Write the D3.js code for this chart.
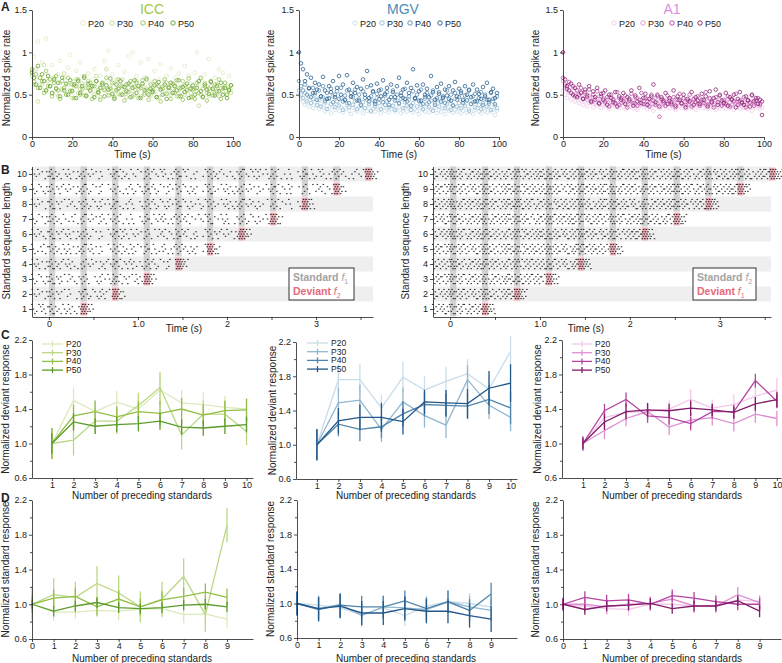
<!DOCTYPE html>
<html><head><meta charset="utf-8">
<script src="https://cdn.jsdelivr.net/npm/d3@7"></script>
<style>body{margin:0;background:#fff} svg text{font-family:"Liberation Sans",Arial,sans-serif;fill:#222}</style>
</head><body><svg id="c" width="782" height="663"></svg>
<script>
// ---------------- DATA ----------------
const regions = ["ICC","MGV","A1"];
const ages = ["P20","P30","P40","P50"];
const timeTicksA = [0,20,40,60,80,100];
const rateTicks = [0,0.5,1,1.5];
const rateTickLabels = ["0","0.5","1","1.5"];
const respTicks = [0.6,1.0,1.4,1.8,2.2];
const respTickLabels = ["0.6","1.0","1.4","1.8","2.2"];
const respMinorTicks = [0.8,1.2,1.6,2.0];
const devN = [1,2,3,4,5,6,7,8,9,10];
const stdN = [0,1,2,3,4,5,6,7,8,9];
const rowsB = [1,2,3,4,5,6,7,8,9,10];
const timeTicksB = [0,0.5,1,1.5,2,2.5,3,3.5];
const timeTickLabelsB = ["0","","1.0","","2","","3",""];
const stimOnsetInterval = 0.355;   // s between tone onsets
const stimDuration = 0.07;         // s
const rasterBin = 0.05;            // s per density character

// Panel A: normalized spike rate, one value per second (t = 0..99 s)
const rateICC = [
 [0.78,0.95,0.68,1.13,0.62,0.88,0.55,1.16,0.72,0.60,0.85,0.66,0.52,0.74,0.90,0.58,0.70,0.63,0.82,0.97,0.55,0.66,0.78,0.60,0.88,0.52,0.70,0.64,0.75,0.58,0.68,0.80,0.55,0.62,0.72,0.58,0.90,0.65,1.02,0.60,0.74,0.55,0.68,0.85,0.62,0.58,0.77,0.52,0.95,0.66,1.00,0.60,0.72,0.56,0.88,0.63,0.70,0.58,0.92,0.64,0.55,0.78,0.60,0.68,0.86,0.57,0.65,0.72,0.59,0.81,0.62,0.70,0.56,0.75,0.60,0.66,0.84,0.58,0.72,0.63,0.57,0.76,1.00,0.62,0.68,0.58,0.74,0.60,0.92,0.66,0.55,0.70,0.62,0.80,0.58,0.76,0.64,0.60,0.72,0.56],
 [0.72,0.65,0.80,0.42,0.70,0.62,0.85,0.55,0.66,0.60,0.52,0.70,0.58,0.48,0.64,0.56,0.75,0.50,0.62,0.55,0.46,0.60,0.68,0.52,0.57,0.63,0.49,0.58,0.66,0.54,0.60,0.50,0.72,0.56,0.47,0.62,0.55,0.80,0.52,0.58,0.49,0.64,0.56,0.51,0.60,0.68,0.53,0.47,0.58,0.62,0.54,0.50,0.66,0.57,0.48,0.60,0.52,0.70,0.55,0.49,0.58,0.53,0.62,0.47,0.56,0.60,0.51,0.64,0.55,0.50,0.57,0.62,0.48,0.58,0.53,0.66,0.50,0.56,0.60,0.52,0.47,0.58,0.54,0.37,0.50,0.57,0.64,0.52,0.49,0.60,0.55,0.51,0.62,0.48,0.58,0.53,0.60,0.50,0.56,0.52],
 [0.80,0.62,0.74,0.58,0.70,0.66,0.52,0.78,0.60,0.68,0.48,0.64,0.72,0.55,0.45,0.66,0.58,0.50,0.70,0.54,0.62,0.46,0.60,0.68,0.50,0.57,0.72,0.48,0.58,0.64,0.45,0.60,0.66,0.52,0.44,0.62,0.56,0.70,0.49,0.57,0.64,0.47,0.55,0.68,0.50,0.60,0.43,0.62,0.53,0.66,0.48,0.59,0.64,0.46,0.58,0.67,0.50,0.56,0.44,0.62,0.55,0.66,0.47,0.60,0.42,0.57,0.68,0.51,0.59,0.45,0.63,0.52,0.67,0.48,0.58,0.44,0.61,0.55,0.69,0.47,0.56,0.45,0.64,0.52,0.70,0.48,0.60,0.43,0.57,0.66,0.49,0.62,0.54,0.68,0.45,0.58,0.64,0.50,0.56,0.61],
 [0.76,0.70,0.62,0.84,0.58,0.74,0.66,0.55,0.72,0.60,0.52,0.68,0.57,0.64,0.48,0.70,0.55,0.63,0.50,0.67,0.54,0.62,0.46,0.66,0.52,0.60,0.70,0.49,0.63,0.55,0.60,0.47,0.66,0.53,0.58,0.64,0.48,0.61,0.56,0.69,0.51,0.45,0.62,0.57,0.66,0.50,0.59,0.54,0.63,0.47,0.58,0.67,0.52,0.60,0.46,0.63,0.55,0.68,0.50,0.57,0.53,0.61,0.47,0.65,0.56,0.50,0.62,0.45,0.58,0.64,0.52,0.60,0.55,0.67,0.48,0.59,0.53,0.63,0.46,0.57,0.61,0.50,0.58,0.66,0.54,0.47,0.62,0.56,0.51,0.65,0.57,0.49,0.60,0.54,0.64,0.50,0.58,0.46,0.55,0.61]
];
const rateMGV = [
 [0.50,0.45,0.42,0.38,0.44,0.36,0.40,0.34,0.41,0.37,0.33,0.39,0.35,0.30,0.37,0.33,0.28,0.36,0.32,0.38,0.31,0.35,0.29,0.34,0.38,0.31,0.27,0.35,0.32,0.30,0.36,0.33,0.28,0.34,0.31,0.37,0.29,0.33,0.30,0.35,0.32,0.28,0.36,0.31,0.34,0.29,0.33,0.37,0.30,0.32,0.35,0.28,0.31,0.34,0.30,0.36,0.32,0.29,0.33,0.31,0.27,0.34,0.32,0.30,0.36,0.29,0.33,0.31,0.35,0.28,0.32,0.30,0.34,0.27,0.33,0.31,0.36,0.29,0.32,0.30,0.34,0.28,0.31,0.35,0.29,0.33,0.30,0.27,0.32,0.34,0.30,0.28,0.33,0.31,0.29,0.35,0.30,0.32,0.26,0.31],
 [0.55,0.50,0.46,0.52,0.42,0.48,0.40,0.45,0.50,0.38,0.44,0.36,0.47,0.41,0.33,0.45,0.39,0.48,0.35,0.42,0.37,0.46,0.32,0.43,0.40,0.35,0.47,0.38,0.42,0.33,0.45,0.37,0.41,0.34,0.44,0.39,0.31,0.43,0.36,0.46,0.40,0.33,0.45,0.38,0.42,0.35,0.47,0.37,0.32,0.43,0.39,0.45,0.34,0.41,0.37,0.44,0.32,0.40,0.46,0.36,0.42,0.38,0.33,0.45,0.39,0.35,0.43,0.31,0.40,0.44,0.36,0.41,0.47,0.34,0.39,0.43,0.32,0.38,0.45,0.36,0.40,0.34,0.42,0.37,0.44,0.31,0.39,0.41,0.35,0.43,0.38,0.33,0.40,0.45,0.36,0.39,0.32,0.42,0.37,0.34],
 [0.66,0.60,0.55,0.62,0.50,0.57,0.47,0.58,0.52,0.44,0.55,0.48,0.60,0.43,0.52,0.46,0.57,0.41,0.50,0.54,0.45,0.58,0.42,0.49,0.55,0.40,0.52,0.47,0.56,0.43,0.50,0.38,0.54,0.46,0.59,0.42,0.48,0.53,0.39,0.51,0.45,0.56,0.41,0.49,0.53,0.38,0.47,0.55,0.43,0.50,0.40,0.52,0.46,0.57,0.42,0.48,0.37,0.54,0.45,0.50,0.43,0.56,0.39,0.47,0.52,0.41,0.49,0.55,0.38,0.46,0.53,0.42,0.48,0.40,0.55,0.45,0.50,0.37,0.52,0.44,0.47,0.54,0.40,0.49,0.43,0.56,0.39,0.48,0.51,0.42,0.46,0.53,0.38,0.50,0.44,0.41,0.52,0.45,0.39,0.48],
 [1.00,0.87,0.80,0.66,0.74,0.58,0.70,0.52,0.64,0.56,0.62,0.48,0.71,0.55,0.45,0.60,0.53,0.66,0.47,0.58,0.72,0.50,0.62,0.44,0.73,0.56,0.48,0.64,0.52,0.59,0.43,0.57,0.68,0.50,0.78,0.46,0.61,0.54,0.42,0.63,0.55,0.48,0.67,0.51,0.58,0.44,0.62,0.53,0.47,0.60,0.70,0.49,0.56,0.45,0.64,0.52,0.58,0.80,0.46,0.61,0.54,0.43,0.62,0.50,0.57,0.47,0.72,0.53,0.44,0.59,0.51,0.63,0.46,0.56,0.49,0.60,0.43,0.55,0.65,0.48,0.57,0.52,0.44,0.60,0.50,0.55,0.47,0.62,0.42,0.56,0.51,0.45,0.59,0.48,0.64,0.44,0.53,0.57,0.46,0.52]
];
const rateA1 = [
 [0.55,0.50,0.46,0.52,0.44,0.48,0.42,0.45,0.40,0.43,0.38,0.42,0.36,0.40,0.44,0.35,0.39,0.37,0.41,0.34,0.38,0.36,0.40,0.33,0.37,0.39,0.35,0.38,0.34,0.40,0.36,0.33,0.38,0.35,0.39,0.34,0.37,0.32,0.36,0.38,0.35,0.39,0.33,0.37,0.35,0.31,0.38,0.36,0.34,0.37,0.33,0.36,0.39,0.34,0.37,0.35,0.32,0.38,0.36,0.34,0.37,0.33,0.35,0.38,0.34,0.36,0.32,0.37,0.35,0.39,0.34,0.36,0.33,0.38,0.35,0.37,0.32,0.36,0.34,0.38,0.35,0.33,0.37,0.34,0.36,0.32,0.38,0.35,0.33,0.36,0.34,0.37,0.33,0.35,0.31,0.36,0.34,0.37,0.33,0.35],
 [0.66,0.60,0.56,0.62,0.52,0.58,0.50,0.55,0.48,0.53,0.46,0.51,0.44,0.49,0.43,0.47,0.41,0.45,0.48,0.42,0.46,0.40,0.44,0.47,0.41,0.45,0.39,0.43,0.46,0.40,0.44,0.42,0.38,0.45,0.41,0.43,0.39,0.46,0.40,0.44,0.42,0.38,0.45,0.41,0.43,0.39,0.46,0.40,0.42,0.44,0.39,0.43,0.41,0.45,0.38,0.42,0.44,0.40,0.43,0.39,0.45,0.41,0.38,0.43,0.40,0.44,0.42,0.39,0.46,0.41,0.43,0.39,0.42,0.45,0.40,0.38,0.43,0.41,0.44,0.39,0.42,0.40,0.45,0.41,0.38,0.43,0.40,0.42,0.39,0.44,0.41,0.38,0.43,0.40,0.42,0.39,0.44,0.40,0.37,0.42],
 [0.70,0.62,0.57,0.65,0.52,0.60,0.48,0.55,0.50,0.58,0.45,0.53,0.47,0.56,0.41,0.50,0.44,0.54,0.39,0.48,0.52,0.42,0.47,0.36,0.50,0.44,0.40,0.53,0.38,0.46,0.42,0.49,0.35,0.45,0.51,0.40,0.47,0.37,0.44,0.52,0.39,0.46,0.42,0.36,0.50,0.43,0.38,0.48,0.24,0.45,0.41,0.37,0.49,0.43,0.39,0.47,0.35,0.44,0.51,0.40,0.46,0.38,0.43,0.50,0.36,0.45,0.41,0.48,0.37,0.44,0.40,0.53,0.38,0.46,0.42,0.35,0.47,0.41,0.50,0.37,0.44,0.39,0.48,0.36,0.45,0.42,0.51,0.38,0.43,0.40,0.47,0.35,0.44,0.41,0.49,0.37,0.43,0.46,0.39,0.42],
 [1.00,0.68,0.60,0.55,0.63,0.50,0.58,0.47,0.62,0.52,0.45,0.56,0.49,0.60,0.42,0.54,0.47,0.58,0.40,0.51,0.44,0.55,0.38,0.50,0.46,0.41,0.53,0.36,0.48,0.44,0.52,0.39,0.47,0.43,0.55,0.37,0.49,0.42,0.58,0.40,0.46,0.51,0.38,0.45,0.48,0.62,0.41,0.50,0.36,0.47,0.43,0.52,0.39,0.46,0.41,0.55,0.37,0.48,0.44,0.40,0.50,0.35,0.45,0.42,0.53,0.38,0.47,0.43,0.39,0.51,0.44,0.48,0.36,0.54,0.41,0.46,0.56,0.38,0.49,0.43,0.40,0.52,0.37,0.47,0.44,0.50,0.35,0.45,0.53,0.41,0.38,0.48,0.43,0.36,0.50,0.42,0.46,0.39,0.44,0.26]
];

// Panel B: spike density per 50 ms bin ("|" separates pre-stimulus, each standard, deviant)
const rasterLeft = [
 "3242|5323422|973",
 "2313|4231302|5322431|963",
 "3223|5241322|4302413|6323142|972",
 "2413|5332421|4231332|5323412|4332140|983",
 "3132|4323413|5241302|4332421|5231413|4323302|963",
 "2322|5232413|4321302|5342231|4213322|5331402|4232313|973",
 "3213|4322131|5231422|4312302|5223413|4332122|5213402|4322313|962",
 "2312|5231322|4322413|5213302|4332241|5223132|4312423|5232311|4321302|973",
 "3223|4232313|5321402|4213322|5332141|4223302|5312423|4231312|5322401|4213322|962",
 "2313|5322413|4231302|5332221|4322413|5231302|4332122|5223413|4312302|5232413|4321322|983"
];
const rasterRight = [
 "4354|6453545|974",
 "5345|6454354|7543465|984",
 "4535|6453544|7354365|6545453|974",
 "5444|7543546|6454354|7345445|6543536|985",
 "4535|6454354|7543465|6354544|7453536|6545443|974",
 "5345|7453546|6544354|7354465|6453545|7545354|6434565|984",
 "4354|6543545|7354464|6453354|7545465|6354543|7453546|6545354|974",
 "5445|7354546|6453465|7545354|6354545|7453464|6545353|7354546|6453455|985",
 "4535|6454354|7543465|6354545|7453354|6545464|7354543|6453546|7545354|6354465|974",
 "5345|7453546|6544354|7354465|6453545|7545354|6354564|7453445|6545354|7354546|6453465|985"
];

// Panel C: normalized deviant response (n = 1..10), P20..P50
const devICC = [
 [1.00,1.50,1.37,1.48,1.40,1.62,1.47,1.45,1.42,1.40],
 [1.00,1.04,1.26,1.26,1.44,1.65,1.10,1.34,1.34,1.14],
 [1.00,1.32,1.37,1.31,1.37,1.35,1.40,1.33,1.38,1.39],
 [1.00,1.25,1.20,1.22,1.23,1.26,1.19,1.18,1.20,1.22]
];
const devErrICC = [
 [0.18,0.15,0.13,0.13,0.14,0.18,0.15,0.14,0.13,0.12],
 [0.18,0.18,0.15,0.15,0.15,0.18,0.17,0.16,0.15,0.16],
 [0.18,0.13,0.13,0.12,0.12,0.14,0.13,0.12,0.12,0.13],
 [0.12,0.10,0.09,0.09,0.09,0.10,0.09,0.09,0.09,0.09]
];
const devMGV = [
 [1.00,1.76,1.76,1.43,1.79,1.64,1.74,1.83,1.65,2.09],
 [1.00,1.49,1.52,1.18,1.50,1.34,1.23,1.76,1.46,1.32],
 [1.00,1.24,1.18,1.21,1.36,1.47,1.46,1.45,1.53,1.43],
 [1.00,1.28,1.32,1.32,1.27,1.50,1.49,1.48,1.66,1.72]
];
const devErrMGV = [
 [0.18,0.18,0.18,0.15,0.18,0.16,0.17,0.17,0.16,0.18],
 [0.18,0.18,0.18,0.15,0.17,0.14,0.15,0.17,0.16,0.16],
 [0.18,0.14,0.14,0.13,0.15,0.14,0.14,0.15,0.17,0.19],
 [0.18,0.15,0.15,0.17,0.15,0.14,0.15,0.17,0.20,0.22]
];
const devA1 = [
 [1.00,1.30,1.36,1.37,1.40,1.51,1.41,1.45,1.55,1.62],
 [1.00,1.15,1.29,1.37,1.19,1.27,1.30,1.23,1.34,1.29],
 [1.00,1.38,1.51,1.32,1.30,1.23,1.37,1.37,1.73,1.49],
 [1.00,1.25,1.37,1.39,1.38,1.41,1.39,1.36,1.46,1.51]
];
const devErrA1 = [
 [0.08,0.10,0.10,0.10,0.10,0.12,0.10,0.12,0.12,0.14],
 [0.08,0.10,0.09,0.09,0.09,0.09,0.09,0.09,0.10,0.09],
 [0.08,0.08,0.08,0.08,0.08,0.08,0.08,0.08,0.08,0.08],
 [0.06,0.09,0.09,0.08,0.08,0.09,0.07,0.07,0.08,0.09]
];

// Panel D: normalized standard response (n = 0..9), P20..P50
const stdICC = [
 [1.00,0.91,0.91,0.93,0.92,0.94,0.95,0.88,0.89,0.83],
 [1.00,1.11,1.08,1.24,1.13,0.97,1.06,1.32,0.88,1.91],
 [1.00,1.07,1.09,0.97,1.06,0.97,1.05,1.09,1.14,1.08],
 [1.00,0.92,0.98,1.02,0.96,0.95,0.96,0.99,1.00,0.97]
];
const stdErrICC = [
 [0.06,0.10,0.08,0.08,0.10,0.10,0.10,0.10,0.10,0.10],
 [0.20,0.19,0.18,0.20,0.20,0.18,0.20,0.21,0.20,0.20],
 [0.10,0.10,0.10,0.10,0.10,0.10,0.10,0.10,0.10,0.10],
 [0.05,0.06,0.06,0.06,0.06,0.06,0.06,0.06,0.06,0.06]
];
const stdMGV = [
 [1.00,0.98,0.95,0.87,0.95,0.86,0.97,1.02,1.00,0.96],
 [1.00,0.94,0.99,0.86,0.96,0.95,0.93,1.02,0.96,0.92],
 [1.00,0.93,0.98,0.96,0.96,1.03,0.94,1.02,0.92,1.11],
 [1.00,0.94,0.97,0.89,0.89,0.94,0.91,0.91,0.86,0.82]
];
const stdErrMGV = [
 [0.12,0.12,0.12,0.12,0.12,0.12,0.12,0.12,0.12,0.12],
 [0.13,0.13,0.13,0.13,0.13,0.13,0.13,0.13,0.13,0.13],
 [0.14,0.14,0.14,0.13,0.13,0.12,0.13,0.13,0.13,0.13],
 [0.14,0.14,0.14,0.14,0.14,0.14,0.14,0.14,0.14,0.15]
];
const stdA1 = [
 [1.00,0.98,0.95,0.94,1.00,1.00,0.98,0.99,1.05,1.03],
 [1.00,1.00,0.97,1.00,1.01,1.06,0.98,0.98,1.11,1.02],
 [1.00,1.08,1.04,1.05,1.00,1.10,1.07,1.03,1.00,1.00],
 [1.00,0.94,0.98,0.99,1.01,0.95,0.98,0.98,1.04,0.92]
];
const stdErrA1 = [
 [0.07,0.07,0.07,0.07,0.07,0.07,0.07,0.07,0.07,0.07],
 [0.08,0.08,0.08,0.08,0.08,0.08,0.08,0.08,0.09,0.08],
 [0.07,0.07,0.07,0.07,0.07,0.07,0.07,0.07,0.07,0.07],
 [0.06,0.06,0.06,0.06,0.06,0.06,0.06,0.06,0.06,0.07]
];

// ---------------- STYLE ----------------
const colorsICC = ["#dbeabc","#bad884","#92bf45","#5c9c2c"];
const colorsMGV = ["#c8dde9","#90b7cf","#4f86ae","#22578a"];
const colorsA1  = ["#f1c8ea","#dc90d2","#b3449f","#821c69"];
const titleColors = ["#a3c63d","#4d8cb8","#d98edd"];
const FS_TICK = 9, FS_LAB = 10;

const svg = d3.select("#c");

function styleAxis(a){
  a.attr("font-family",null).attr("font-size",null);
  a.selectAll("text").attr("font-size",FS_TICK).style("fill","#222");
  a.selectAll("path,line").attr("stroke","#222").attr("stroke-width",0.8);
}
function yAxis(scale,x,ticks,labels,minor){
  const a = svg.append("g").attr("transform",`translate(${x},0)`)
    .call(d3.axisLeft(scale).tickValues(ticks).tickFormat((d,i)=>labels[i]).tickSize(3).tickSizeOuter(0).tickPadding(2));
  styleAxis(a);
  if(minor){
    const m = svg.append("g").attr("transform",`translate(${x},0)`)
      .call(d3.axisLeft(scale).tickValues(minor).tickFormat("").tickSize(2));
    m.select(".domain").remove(); styleAxis(m);
  }
}
function xAxis(scale,y,ticks,labels){
  const a = svg.append("g").attr("transform",`translate(0,${y})`)
    .call(d3.axisBottom(scale).tickValues(ticks).tickFormat((d,i)=>labels?labels[i]:d).tickSize(3).tickSizeOuter(0).tickPadding(1));
  styleAxis(a);
}
function yTitle(x,y,txt){
  svg.append("text").attr("transform",`translate(${x},${y}) rotate(-90)`).attr("text-anchor","middle")
    .attr("dominant-baseline","central").attr("font-size",FS_LAB).text(txt);
}
function xTitle(x,y,txt){
  svg.append("text").attr("x",x).attr("y",y).attr("text-anchor","middle").attr("font-size",FS_LAB).text(txt);
}
function letter(x,y,t){
  svg.append("text").attr("x",x).attr("y",y).attr("font-size",12).attr("font-weight","bold").text(t);
}

// ---------------- PANEL A ----------------
const panelA = [
  {data:rateICC, colors:colorsICC, x0:32, x1:233, leg:[83,112,143,173], yl:6,  tx:152},
  {data:rateMGV, colors:colorsMGV, x0:299,x1:499, leg:[355,382,410,440], yl:270, tx:403},
  {data:rateA1,  colors:colorsA1,  x0:563,x1:764, leg:[614,643,672,700], yl:535, tx:672}
];
panelA.forEach((p,ri)=>{
  const x = d3.scaleLinear().domain([0,100]).range([p.x0,p.x1]);
  const y = d3.scaleLinear().domain([0,1.5]).range([137,10]);
  p.data.forEach((series,si)=>{
    svg.append("g").selectAll("circle").data(series).join("circle")
      .attr("cx",(d,i)=>x(i)).attr("cy",d=>y(d)).attr("r",1.8)
      .attr("fill","none").attr("stroke",p.colors[si]).attr("stroke-width",0.75);
  });
  yAxis(y,p.x0,rateTicks,rateTickLabels);
  xAxis(x,137,timeTicksA);
  yTitle(p.yl,78,"Normalized spike rate");
  xTitle((p.x0+p.x1)/2,158,"Time (s)");
  svg.append("text").attr("x",p.tx).attr("y",14).attr("text-anchor","middle")
    .attr("font-size",14).style("fill",titleColors[ri]).text(regions[ri]);
  ages.forEach((a,ai)=>{
    svg.append("circle").attr("cx",p.leg[ai]).attr("cy",23).attr("r",2.2)
      .attr("fill","none").attr("stroke",p.colors[ai]).attr("stroke-width",0.9);
    svg.append("text").attr("x",p.leg[ai]+5).attr("y",26.5).attr("font-size",FS_TICK).text(a);
  });
});
letter(1,11,"A");

// ---------------- PANEL B ----------------
const panelB = [
  {rows:rasterLeft, x0:32, x1:373, dom:[-0.19,3.64], yl:6, leg:[289,354], std:"1", dev:"2", tx:184},
  {rows:rasterRight, x0:433,x1:771, dom:[-0.19,3.57], yl:405, leg:[693,756], std:"2", dev:"1", tx:586}
];
panelB.forEach(p=>{
  const x = d3.scaleLinear().domain(p.dom).range([p.x0,p.x1]);
  const y = d3.scaleLinear().domain([0.5,10.5]).range([316.5,166.5]);
  const rh = 15;
  svg.append("g").selectAll("rect").data(rowsB.filter(r=>r%2===0)).join("rect")
    .attr("x",p.x0).attr("width",p.x1-p.x0).attr("y",r=>y(r)-rh/2).attr("height",rh).attr("fill","#efefef");
  svg.append("g").selectAll("rect").data(d3.range(0,10)).join("rect")
    .attr("x",k=>x(k*stimOnsetInterval)).attr("width",x(stimDuration)-x(0))
    .attr("y",y(10)-rh/2).attr("height",k=>y(k+1)+rh/2-(y(10)-rh/2))
    .attr("fill","#bdbdbd").attr("opacity",0.65);
  svg.append("g").selectAll("rect").data(rowsB).join("rect")
    .attr("x",n=>x(n*stimOnsetInterval)).attr("width",x(stimDuration)-x(0))
    .attr("y",n=>y(n)-rh/2+1).attr("height",rh-2)
    .attr("fill","#eea0aa").attr("opacity",0.8);
  const dots = [];
  p.rows.forEach((str,ri)=>{
    const yc = y(ri+1);
    str.split("|").forEach((seg,si)=>{
      const t0 = si===0 ? -0.2 : (si-1)*stimOnsetInterval;
      for(let j=0;j<seg.length;j++){
        const c = +seg[j];
        for(let k=0;k<c;k++){
          const lane = (k*2 + j*3 + si) % 5;
          dots.push({t:t0+rasterBin*(j+(k+0.5)/c), y:yc-4.6+lane*2.3});
        }
      }
    });
  });
  svg.append("g").selectAll("rect").data(dots).join("rect")
    .attr("x",d=>x(d.t)-0.7).attr("y",d=>d.y-0.5).attr("width",1.5).attr("height",1.1)
    .attr("fill","#111").attr("opacity",0.85);
  yAxis(y,p.x0,rowsB,rowsB.map(String));
  xAxis(x,317,timeTicksB,timeTickLabelsB);
  yTitle(p.yl,241,"Standard sequence length");
  xTitle(p.tx,332,"Time (s)");
  svg.append("rect").attr("x",p.leg[0]).attr("y",268).attr("width",p.leg[1]-p.leg[0]).attr("height",32)
    .attr("fill","#fff").attr("stroke","#333").attr("stroke-width",1);
  const t1 = svg.append("text").attr("x",p.leg[0]+4).attr("y",281).attr("font-size",10.5).attr("font-weight","bold").style("fill","#a3a3a3");
  t1.append("tspan").text("Standard ");
  t1.append("tspan").attr("font-style","italic").attr("font-weight","normal").style("fill","#a3a3a3").text("f");
  t1.append("tspan").attr("font-size",7).attr("dy",3).attr("font-weight","normal").style("fill","#a3a3a3").text(p.std);
  const t2 = svg.append("text").attr("x",p.leg[0]+4).attr("y",295).attr("font-size",10.5).attr("font-weight","bold").style("fill","#e66a7a");
  t2.append("tspan").text("Deviant ");
  t2.append("tspan").attr("font-style","italic").attr("font-weight","normal").style("fill","#e66a7a").text("f");
  t2.append("tspan").attr("font-size",7).attr("dy",3).attr("font-weight","normal").style("fill","#e66a7a").text(p.dev);
});
letter(1,174,"B");

// ---------------- PANELS C & D ----------------
function linePanel(o){
  const x = d3.scaleLinear().domain(o.xdom).range(o.xr);
  const y = d3.scaleLinear().domain([0.6,2.2]).range(o.yr);
  o.vals.forEach((s,si)=>{
    const col = o.colors[si];
    const g = svg.append("g");
    g.append("path").datum(s).attr("fill","none").attr("stroke",col).attr("stroke-width",1.3)
      .attr("d",d3.line().x((d,i)=>x(o.n[i])).y(d=>y(d)));
    g.selectAll("line").data(s).join("line")
      .attr("x1",(d,i)=>x(o.n[i])).attr("x2",(d,i)=>x(o.n[i]))
      .attr("y1",(d,i)=>y(d-o.errs[si][i])).attr("y2",(d,i)=>y(d+o.errs[si][i]))
      .attr("stroke",col).attr("stroke-width",1.3);
  });
  yAxis(y,o.xr[0],respTicks,respTickLabels,respMinorTicks);
  xAxis(x,o.yr[0],o.ticks);
  yTitle(o.yl,(o.yr[0]+o.yr[1])/2,o.ytitle);
  xTitle(o.tx,o.ty,"Number of preceding standards");
  if(o.leg){
    ages.forEach((a,ai)=>{
      const ly = o.leg[2]+ai*8.7;
      svg.append("line").attr("x1",o.leg[0]).attr("x2",o.leg[1]).attr("y1",ly).attr("y2",ly)
        .attr("stroke",o.colors[ai]).attr("stroke-width",1.3);
      const mx=(o.leg[0]+o.leg[1])/2;
      svg.append("line").attr("x1",mx).attr("x2",mx).attr("y1",ly-3).attr("y2",ly+3)
        .attr("stroke",o.colors[ai]).attr("stroke-width",1.3);
      svg.append("text").attr("x",o.leg[1]+3).attr("y",ly+3).attr("font-size",8.5).text(a);
    });
  }
}
const cfgC = [
  {vals:devICC, errs:devErrICC, colors:colorsICC, xdom:[0.08,10.3], xr:[32,253], yr:[478,340], yl:5,   tx:142, leg:[42,63,344]},
  {vals:devMGV, errs:devErrMGV, colors:colorsMGV, xdom:[0.03,10.3], xr:[296,517], yr:[479,342], yl:272, tx:406, leg:[307,328,343]},
  {vals:devA1,  errs:devErrA1,  colors:colorsA1,  xdom:[0.03,10.19],xr:[562,781], yr:[478,340], yl:537, tx:672, leg:[572,592,344]}
];
cfgC.forEach(c=>linePanel(Object.assign({n:devN, ticks:devN, ty:499, ytitle:"Normalized deviant response"},c)));
letter(1,339,"C");

const cfgD = [
  {vals:stdICC, errs:stdErrICC, colors:colorsICC, xdom:[0,10.2], xr:[32,253], yr:[639,500], yl:5,   tx:142},
  {vals:stdMGV, errs:stdErrMGV, colors:colorsMGV, xdom:[0,10.2], xr:[297,517], yr:[638,500], yl:270, tx:406},
  {vals:stdA1,  errs:stdErrA1,  colors:colorsA1,  xdom:[0,9.98], xr:[563,781], yr:[639,500], yl:535, tx:672}
];
cfgD.forEach(c=>linePanel(Object.assign({n:stdN, ticks:stdN, ty:662, ytitle:"Normalized standard response"},c)));
letter(1,502,"D");
</script></body></html>
